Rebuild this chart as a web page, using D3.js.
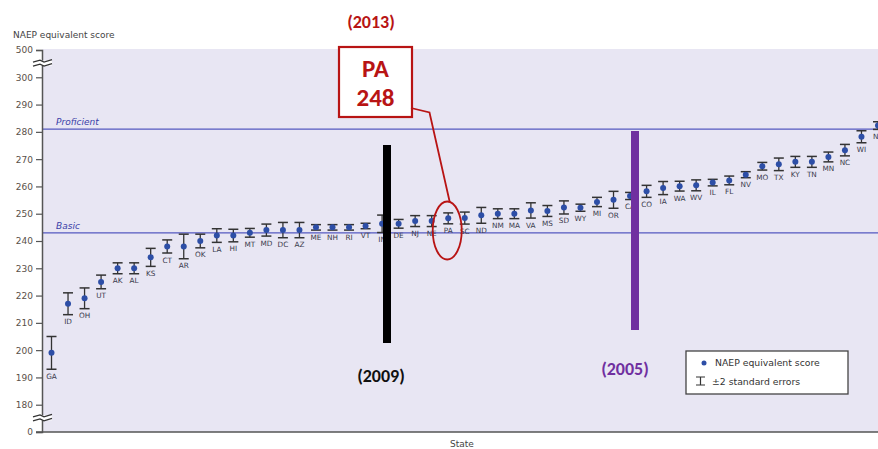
<!DOCTYPE html>
<html><head><meta charset="utf-8">
<script src="https://cdn.jsdelivr.net/npm/d3@7"></script>
<style>body{margin:0;background:#fff}svg{display:block}</style>
</head><body>
<svg id="c" width="878" height="449"></svg>
<script>
const states = ["GA","ID","OH","UT","AK","AL","KS","CT","AR","OK","LA","HI","MT","MD","DC","AZ","ME","NH","RI","VT","IN","DE","NJ","NE","PA","SC","ND","NM","MA","VA","MS","SD","WY","MI","OR","CA","CO","IA","WA","WV","IL","FL","NV","MO","TX","KY","TN","MN","NC","WI","NY"];
const scores = [199,217,219,225,230,230,234,238,238,240,242,242,243,244,244,244,245,245,245,245.5,246.3,246.3,247.3,247.3,248.3,248.4,249.4,250,250,251.2,251,252.3,252.2,254.3,255.1,256.5,258.2,259.4,260.1,260.4,261.4,262.2,264.3,267.4,268.1,269,269,270.8,273.3,278.2,282.3];
const errors = [6,4,3.8,2.5,2,2,3.3,2.4,4.5,2.5,2.5,2.3,1.6,2.2,2.8,2.8,1,1,1,1,3.2,1.6,2,2,2,2.2,2.9,1.8,1.8,2.8,2,2.4,1.3,1.7,3.1,1.3,2.2,2.4,1.8,2,1.2,1.6,1.1,1.4,2.3,2,2,1.8,2.1,2.2,1.4];
const yTicks = [170,180,190,200,210,220,230,240,250,260,270,280,290,300,310];
const yTickLabels = ["0","180","190","200","210","220","230","240","250","260","270","280","290","300","500"];
const levels = [{name:"Proficient", value:281},{name:"Basic", value:243}];

const svg = d3.select("#c");
const font = "'DejaVu Sans', Verdana, sans-serif";
const x = d3.scalePoint().domain(states).range([51.5, 878]);
const y = d3.scaleLinear().domain([170, 310]).range([432, 50]);
const left = 42, right = 878;

// background
svg.append("rect").attr("x", left).attr("y", y(310)-1).attr("width", right-left).attr("height", y(170)-y(310)+1).attr("fill", "#e8e6f3");

// reference lines
levels.forEach(l => {
  svg.append("line").attr("x1", left).attr("x2", right).attr("y1", y(l.value)).attr("y2", y(l.value))
    .attr("stroke", "#5558c0").attr("stroke-width", 1.2);
  svg.append("text").attr("x", 56).attr("y", y(l.value) - 4).text(l.name)
    .attr("font-family", font).attr("font-size", 9).attr("font-style", "italic").attr("fill", "#3a3fa8");
});

// y axis
const yAxis = d3.axisLeft(y).tickValues(yTicks).tickFormat((d,i) => yTickLabels[i]).tickSize(6).tickPadding(3);
const ga = svg.append("g").attr("transform", `translate(${left},0)`).call(yAxis);
ga.select(".domain").attr("stroke", "#555").attr("stroke-width", 1.5);
ga.selectAll(".tick line").attr("stroke", "#555").attr("stroke-width", 1.2);
ga.selectAll(".tick text").attr("font-family", font).attr("font-size", 9).attr("fill", "#5a5048");

// x axis line
svg.append("line").attr("x1", left-6).attr("x2", right).attr("y1", y(170)).attr("y2", y(170)).attr("stroke", "#555").attr("stroke-width", 1.5);

// axis breaks
[305, 175].forEach(v => {
  const yy = y(v);
  svg.append("rect").attr("x", 33).attr("y", yy-3).attr("width", 19).attr("height", 5).attr("fill", "#fff");
  [-2.5, 1.5].forEach(o => {
    svg.append("path").attr("d", `M33,${yy+o+1} L40,${yy+o-1} L44,${yy+o+1} L52,${yy+o-1.5}`)
      .attr("fill", "none").attr("stroke", "#333").attr("stroke-width", 1.3);
  });
});

svg.append("text").attr("x", 13).attr("y", 38).text("NAEP equivalent score")
  .attr("font-family", font).attr("font-size", 9).attr("fill", "#444");
svg.append("text").attr("x", 462).attr("y", 447).attr("text-anchor", "middle").text("State")
  .attr("font-family", font).attr("font-size", 9).attr("fill", "#444");

// data
const data = states.map((s,i) => ({s, v: scores[i], e: errors[i]}));
const g = svg.append("g");
data.forEach(d => {
  const cx = x(d.s);
  g.append("line").attr("x1", cx).attr("x2", cx).attr("y1", y(d.v+d.e)).attr("y2", y(d.v-d.e)).attr("stroke", "#333").attr("stroke-width", 1.3);
  [d.v+d.e, d.v-d.e].forEach(b => g.append("line").attr("x1", cx-5).attr("x2", cx+5).attr("y1", y(b)).attr("y2", y(b)).attr("stroke", "#333").attr("stroke-width", 1.5));
  g.append("circle").attr("cx", cx).attr("cy", y(d.v)).attr("r", 3).attr("fill", "#2d4ea6");
  g.append("text").attr("x", cx).attr("y", y(d.v-d.e) + 9.5).attr("text-anchor", "middle").text(d.s)
    .attr("font-family", font).attr("font-size", 7.3).attr("fill", "#3a3a4c");
});

// legend
const lg = svg.append("g");
lg.append("rect").attr("x", 686).attr("y", 351).attr("width", 162).attr("height", 43).attr("fill", "#fff").attr("stroke", "#444").attr("stroke-width", 1.3);
lg.append("circle").attr("cx", 704).attr("cy", 363).attr("r", 2.5).attr("fill", "#2d4ea6");
lg.append("text").attr("x", 715).attr("y", 366).text("NAEP equivalent score").attr("font-family", font).attr("font-size", 9.3).attr("fill", "#333");
lg.append("path").attr("d", "M696,377 H705 M700.5,377 V385 M696,385 H705").attr("stroke", "#333").attr("stroke-width", 1.2).attr("fill", "none");
lg.append("text").attr("x", 712).attr("y", 385).text("±2 standard errors").attr("font-family", font).attr("font-size", 9.3).attr("fill", "#333");

// annotations
const bold = "Calibri, Carlito, 'Liberation Sans', Arial, sans-serif";
svg.append("rect").attr("x", 383).attr("y", 145).attr("width", 8).attr("height", 198).attr("fill", "#000");
svg.append("rect").attr("x", 631).attr("y", 131).attr("width", 8).attr("height", 199).attr("fill", "#7030a0");
svg.append("text").attr("x", 381).attr("y", 382).attr("text-anchor", "middle").text("(2009)")
  .attr("font-family", bold).attr("font-weight", "bold").attr("font-size", 18).attr("fill", "#111");
svg.append("text").attr("x", 625).attr("y", 375).attr("text-anchor", "middle").text("(2005)")
  .attr("font-family", bold).attr("font-weight", "bold").attr("font-size", 18).attr("fill", "#7030a0");
svg.append("text").attr("x", 371).attr("y", 28).attr("text-anchor", "middle").text("(2013)")
  .attr("font-family", bold).attr("font-weight", "bold").attr("font-size", 18).attr("fill", "#b81414");
svg.append("rect").attr("x", 339).attr("y", 47).attr("width", 73).attr("height", 70).attr("fill", "#fff").attr("stroke", "#b81414").attr("stroke-width", 2.2);
svg.append("text").attr("x", 375.5).attr("y", 77).attr("text-anchor", "middle").text("PA")
  .attr("font-family", bold).attr("font-weight", "bold").attr("font-size", 25).attr("fill", "#b81414");
svg.append("text").attr("x", 375.5).attr("y", 106).attr("text-anchor", "middle").text("248")
  .attr("font-family", bold).attr("font-weight", "bold").attr("font-size", 25).attr("fill", "#b81414");
const pa = x("PA");
svg.append("path").attr("d", `M411,108 L429.5,112.5 L${pa+1.5},202`).attr("fill", "none").attr("stroke", "#b81414").attr("stroke-width", 1.8);
svg.append("ellipse").attr("cx", pa-1).attr("cy", 230.5).attr("rx", 14.5).attr("ry", 29).attr("fill", "none").attr("stroke", "#b81414").attr("stroke-width", 1.8);
</script>
</body></html>
